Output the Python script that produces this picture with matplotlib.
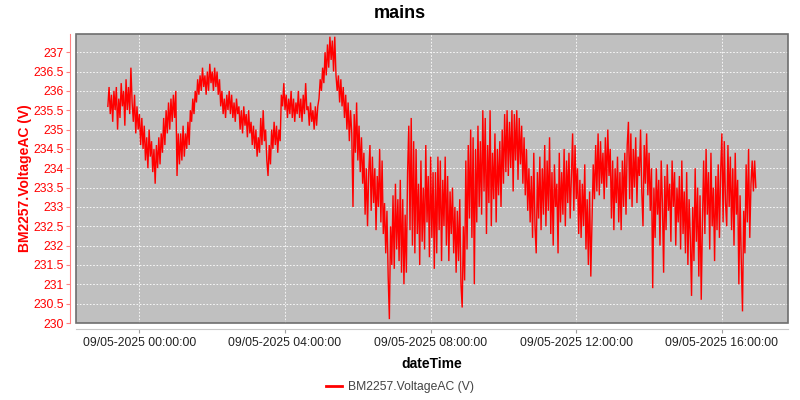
import matplotlib
matplotlib.use("Agg")
import matplotlib.pyplot as plt
import matplotlib.dates as mdates
from matplotlib.patches import Rectangle
from matplotlib.ticker import MultipleLocator, FuncFormatter
from datetime import datetime, timedelta

plt.rcParams['font.family'] = ['Liberation Sans', 'DejaVu Sans']

title = "mains"
series_name = "BM2257.VoltageAC (V)"
x_label = "dateTime"
start_time = datetime(2025, 5, 8, 23, 8)
step_minutes = 2

# voltage readings, one value every 2 minutes, grouped per hour
h00 = [235.6, 236.1, 235.4, 235.9, 235.2, 236.0, 235.5, 236.1, 235.0, 235.8,
       235.3, 236.2, 235.6, 236.0, 235.1, 236.3, 235.5, 236.1, 235.4, 236.6,
       235.7, 235.2, 235.9, 234.9, 235.6, 235.0, 235.4, 234.6, 235.3, 234.5]
h01 = [235.1, 234.2, 234.8, 234.0, 235.0, 234.3, 234.7, 233.9, 234.5, 233.6,
       234.6, 234.0, 234.8, 234.1, 234.9, 234.4, 235.3, 234.6, 235.5, 234.9,
       235.7, 235.0, 235.8, 235.2, 235.9, 235.3, 236.0, 233.8, 234.9, 234.1]
h02 = [234.9, 234.2, 235.1, 234.3, 234.9, 234.5, 235.2, 234.6, 235.5, 235.2,
       235.8, 235.4, 236.0, 235.7, 236.3, 235.9, 236.4, 236.0, 236.6, 236.1,
       236.4, 235.9, 236.5, 236.0, 236.7, 236.2, 236.5, 236.0, 236.6, 236.1]
h03 = [236.5, 235.9, 236.3, 235.6, 236.0, 235.4, 235.8, 235.3, 235.9, 235.5,
       236.0, 235.4, 235.9, 235.3, 235.7, 235.2, 235.8, 235.4, 235.6, 235.0,
       235.5, 234.9, 235.6, 235.1, 235.4, 234.8, 235.5, 234.9, 235.2, 234.6]
h04 = [235.1, 234.5, 235.0, 234.3, 234.8, 234.4, 235.3, 234.6, 235.5, 234.7,
       235.0, 234.2, 233.8, 234.6, 234.1, 235.0, 234.5, 235.2, 234.6, 235.1,
       234.4, 235.0, 234.7, 235.9, 235.6, 236.2, 235.5, 235.9, 235.3, 235.8]
h05 = [235.4, 236.0, 235.3, 235.8, 235.2, 235.7, 235.4, 236.0, 235.3, 235.8,
       235.2, 235.9, 235.4, 236.2, 235.5, 235.6, 235.1, 235.7, 235.2, 235.5,
       235.0, 235.6, 235.1, 235.6, 235.8, 236.3, 236.0, 236.6, 236.2, 237.0]
h06 = [236.4, 237.2, 236.6, 237.4, 236.8, 237.3, 236.5, 237.4, 236.4, 236.0,
       236.4, 235.7, 236.3, 235.6, 236.1, 235.3, 235.9, 235.0, 235.7, 234.7,
       235.5, 234.9, 233.0, 235.4, 234.4, 235.7, 234.2, 235.1, 233.9, 234.8]
h07 = [233.6, 234.4, 232.8, 234.0, 232.5, 233.9, 234.6, 232.9, 234.3, 233.1,
       234.0, 232.4, 233.8, 233.0, 234.5, 232.6, 234.2, 232.3, 233.1, 231.8,
       232.9, 231.2, 230.1, 232.5, 231.5, 233.3, 231.4, 233.6, 231.9, 233.2]
h08 = [231.6, 233.7, 231.3, 233.2, 231.0, 232.8, 231.3, 233.9, 235.1, 232.4,
       235.3, 232.0, 234.7, 231.8, 234.5, 232.3, 233.6, 231.5, 234.2, 232.1,
       233.5, 231.9, 234.6, 232.6, 233.8, 231.7, 234.3, 232.2, 233.9, 231.4]
h09 = [233.9, 231.8, 234.3, 232.4, 234.2, 231.6, 233.7, 232.5, 234.3, 232.0,
       233.8, 231.6, 233.4, 232.3, 233.5, 231.8, 233.0, 231.3, 232.9, 231.6,
       233.2, 231.0, 230.4, 232.5, 231.1, 234.2, 231.9, 234.6, 232.7, 235.0]
h10 = [232.2, 234.8, 231.0, 234.5, 232.6, 235.1, 233.0, 234.7, 232.8, 235.5,
       233.4, 235.3, 232.3, 234.6, 233.1, 235.5, 232.5, 234.4, 233.2, 234.9,
       232.6, 234.5, 233.3, 234.7, 233.0, 235.0, 233.6, 235.4, 233.9, 235.5]
h11 = [233.8, 235.2, 234.0, 235.5, 233.4, 235.4, 234.2, 235.5, 233.7, 235.3,
       234.1, 235.1, 233.6, 234.8, 233.3, 234.5, 232.9, 234.0, 232.6, 233.8,
       232.2, 234.4, 232.5, 231.8, 233.9, 232.7, 234.3, 232.4, 234.0, 232.8]
h12 = [234.6, 232.5, 234.2, 232.9, 234.8, 232.3, 233.9, 232.0, 234.1, 233.0,
       233.6, 231.8, 234.4, 232.6, 233.9, 232.8, 234.5, 232.5, 234.2, 233.1,
       234.4, 232.7, 233.8, 234.9, 232.9, 234.6, 233.2, 234.0, 232.3, 233.7]
h13 = [232.2, 233.6, 232.5, 234.1, 231.9, 233.2, 231.5, 233.4, 231.2, 232.6,
       234.1, 233.2, 234.6, 233.4, 234.9, 233.3, 234.7, 233.6, 234.4, 233.2,
       234.8, 233.5, 235.0, 233.8, 234.5, 232.7, 234.2, 232.4, 234.0, 233.1]
h14 = [234.3, 232.6, 233.9, 232.4, 234.2, 233.0, 234.4, 232.8, 234.6, 235.2,
       233.2, 234.9, 233.0, 234.5, 233.5, 234.8, 233.1, 234.3, 233.8, 235.0,
       233.4, 232.5, 234.6, 233.6, 234.9, 233.3, 234.4, 232.9, 234.0, 230.9]
h15 = [233.5, 232.2, 234.0, 232.8, 233.7, 232.0, 234.2, 233.1, 231.3, 233.8,
       232.4, 234.1, 232.9, 233.6, 232.1, 234.2, 233.0, 233.9, 232.0, 233.5,
       232.6, 233.8, 231.9, 234.2, 232.3, 233.4, 231.8, 233.9, 231.5, 233.2]
h16 = [232.2, 230.7, 233.0, 231.6, 234.0, 232.1, 233.5, 231.2, 233.3, 230.6,
       232.6, 234.2, 232.3, 234.5, 232.8, 233.9, 231.9, 234.4, 232.5, 233.5,
       231.6, 233.8, 232.4, 234.1, 232.2, 233.9, 234.9, 232.6, 234.7, 233.1]
h17 = [232.5, 234.6, 233.0, 234.3, 232.4, 234.0, 232.0, 234.4, 232.8, 233.7,
       231.0, 233.3, 231.6, 230.3, 232.9, 231.8, 234.1, 232.6, 234.5, 232.2,
       233.6, 234.2, 233.4, 234.2, 233.5]

voltage = (h00 + h01 + h02 + h03 + h04 + h05 + h06 + h07 + h08 + h09 +
           h10 + h11 + h12 + h13 + h14 + h15 + h16 + h17)
times = [start_time + timedelta(minutes=step_minutes * i) for i in range(len(voltage))]

tick_times = [datetime(2025, 5, 9, h) for h in (0, 4, 8, 12, 16)]
x_min = datetime(2025, 5, 8, 22, 15, 30)
x_max = datetime(2025, 5, 9, 17, 49)
y_min, y_max = 230.0, 237.47

fig = plt.figure(figsize=(8, 4), dpi=100)
fig.patch.set_facecolor('white')
ax = fig.add_axes([76 / 800, 1 - 323 / 400, (788 - 76) / 800, (323 - 34) / 400])
ax.set_facecolor('#c0c0c0')

ax.plot(times, voltage, color='#ff0000', lw=1.0, zorder=3, solid_joinstyle='miter')

ax.set_xlim(x_min, x_max)
ax.set_ylim(y_min, y_max)
ax.set_xticks(tick_times)
ax.xaxis.set_major_formatter(mdates.DateFormatter('%d/%m-%Y %H:%M:%S'))
ax.yaxis.set_major_locator(MultipleLocator(0.5))
ax.yaxis.set_major_formatter(FuncFormatter(lambda v, p: ('%g' % round(v, 1))))

ax.grid(True, color='white', linestyle=(0, (2, 2)), linewidth=0.6, zorder=1)
ax.set_axisbelow(True)

for s in ('top', 'right'):
    ax.spines[s].set_visible(False)
ax.spines['left'].set_position(('outward', 4))
ax.spines['left'].set_color('#ff8080')
ax.spines['bottom'].set_position(('outward', 4))
ax.spines['bottom'].set_color('#c8c8c8')
ax.add_patch(Rectangle((0, 0), 1, 1, transform=ax.transAxes, fill=False,
                       edgecolor='#6e6e6e', lw=1.2, zorder=5, clip_on=False))

ax.tick_params(axis='y', colors='#ff8080', labelcolor='#ff0000', labelsize=8.7,
               length=3, width=0.8, pad=2)
ax.tick_params(axis='x', colors='#a0a0a0', labelcolor='#222222', labelsize=8.7,
               length=3, width=0.8, pad=3)

ax.set_ylabel(series_name, color='#ff0000', fontsize=10, fontweight='bold', labelpad=1)
ax.set_xlabel(x_label, color='black', fontsize=10, fontweight='bold', labelpad=6)
fig.text(0.5, 1 - 13 / 400, title, ha='center', va='center', fontsize=13, fontweight='bold')

leg = fig.legend([plt.Line2D([], [], color='#ff0000', lw=2)], [series_name],
                 loc='center', bbox_to_anchor=(0.5, 1 - 387 / 400), frameon=False,
                 fontsize=8.7, handlelength=1.3, handletextpad=0.5)
for t in leg.get_texts():
    t.set_color('#444444')

fig.savefig('out.png', dpi=100)
